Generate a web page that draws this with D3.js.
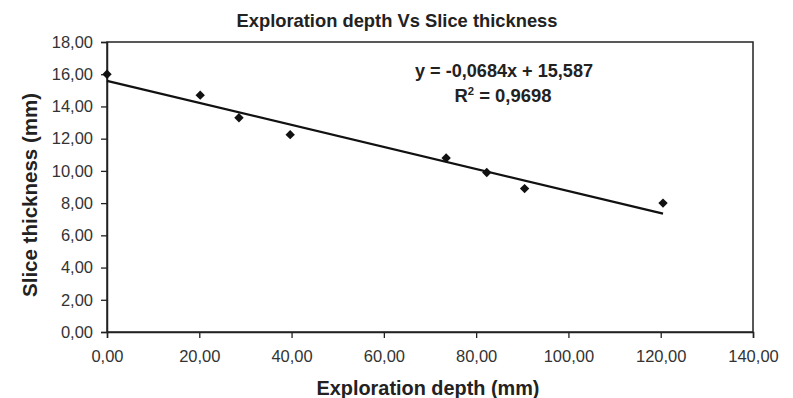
<!DOCTYPE html>
<html>
<head>
<meta charset="utf-8">
<script src="https://cdn.jsdelivr.net/npm/d3@7"></script>
<style>
  body { margin: 0; background: #fff; }
  text { font-family: Arial, "Liberation Sans", sans-serif; }
</style>
</head>
<body>
<div id="chart"></div>
<script>
// data
var depth = [0, 20.2, 28.6, 39.7, 73.5, 82.3, 90.5, 120.5];
var thickness = [16.0, 14.7, 13.3, 12.25, 10.8, 9.9, 8.9, 8.0];
var xTicks = [0, 20, 40, 60, 80, 100, 120, 140];
var yTicks = [0, 2, 4, 6, 8, 10, 12, 14, 16, 18];
var slope = -0.0684;
var intercept = 15.587;
var eqLabel = "y = -0,0684x + 15,587";
var r2Value = "0,9698";

var width = 793, height = 398;
var margin = {top: 42, right: 40, bottom: 66, left: 107};

var svg = d3.select("#chart").append("svg")
    .attr("width", width)
    .attr("height", height);

var x = d3.scaleLinear()
    .domain([0, 140])
    .range([margin.left, width - margin.right]);

var y = d3.scaleLinear()
    .domain([0, 18])
    .range([height - margin.bottom, margin.top]);

var fmt = function(d) { return d.toFixed(2).replace(".", ","); };

// frame round the plot area
svg.append("rect")
    .attr("x", x(0))
    .attr("y", y(18))
    .attr("width", x(140) - x(0))
    .attr("height", y(0) - y(18))
    .attr("fill", "none")
    .attr("stroke", "#222")
    .attr("stroke-width", 1.5);

var xAxis = svg.append("g")
    .attr("transform", "translate(0," + y(0) + ")")
    .call(d3.axisBottom(x).tickValues(xTicks).tickFormat(fmt).tickSize(6).tickPadding(12));

var yAxis = svg.append("g")
    .attr("transform", "translate(" + x(0) + ",0)")
    .call(d3.axisLeft(y).tickValues(yTicks).tickFormat(fmt).tickSize(6).tickPadding(8));

[xAxis, yAxis].forEach(function(g) {
    g.select(".domain").attr("stroke", "#222").attr("stroke-width", 1.5);
    g.selectAll(".tick line").attr("stroke", "#222").attr("stroke-width", 1.3);
    g.selectAll(".tick text")
        .attr("fill", "#333")
        .style("font-size", "16.5px")
        .style("font-family", "Arial, 'Liberation Sans', sans-serif");
});
xAxis.selectAll(".tick text").attr("dy", "0.75em");

// trend line from the fitted equation
var xExtent = d3.extent(depth);
svg.append("path")
    .datum(xExtent)
    .attr("fill", "none")
    .attr("stroke", "#111")
    .attr("stroke-width", 2.2)
    .attr("d", d3.line()
        .x(function(d) { return x(d); })
        .y(function(d) { return y(slope * d + intercept); }));

// diamond markers
svg.selectAll(".pt")
    .data(depth)
    .enter()
    .append("path")
    .attr("class", "pt")
    .attr("transform", function(d, i) { return "translate(" + x(d) + "," + y(thickness[i]) + ") rotate(45)"; })
    .attr("d", d3.symbol().type(d3.symbolSquare).size(44))
    .attr("fill", "#111");

// title
svg.append("text")
    .attr("x", 397)
    .attr("y", 27)
    .attr("text-anchor", "middle")
    .attr("font-weight", "bold")
    .attr("font-size", 18.5)
    .attr("fill", "#222")
    .attr("textLength", 321)
    .attr("lengthAdjust", "spacingAndGlyphs")
    .text("Exploration depth Vs Slice thickness");

// axis titles
svg.append("text")
    .attr("x", 428)
    .attr("y", 395)
    .attr("text-anchor", "middle")
    .attr("font-weight", "bold")
    .attr("font-size", 20)
    .attr("fill", "#222")
    .attr("textLength", 223)
    .attr("lengthAdjust", "spacingAndGlyphs")
    .text("Exploration depth (mm)");

svg.append("text")
    .attr("transform", "translate(37,195) rotate(-90)")
    .attr("text-anchor", "middle")
    .attr("font-weight", "bold")
    .attr("font-size", 19.5)
    .attr("fill", "#222")
    .attr("textLength", 204)
    .attr("lengthAdjust", "spacingAndGlyphs")
    .text("Slice thickness (mm)");

// equation
svg.append("text")
    .attr("x", 504)
    .attr("y", 77)
    .attr("text-anchor", "middle")
    .attr("font-weight", "bold")
    .attr("font-size", 18)
    .attr("fill", "#222")
    .attr("textLength", 178)
    .attr("lengthAdjust", "spacingAndGlyphs")
    .text(eqLabel);

var r2 = svg.append("text")
    .attr("x", 503)
    .attr("y", 102)
    .attr("text-anchor", "middle")
    .attr("font-weight", "bold")
    .attr("font-size", 18)
    .attr("fill", "#222")
    .attr("textLength", 97)
    .attr("lengthAdjust", "spacingAndGlyphs");
r2.append("tspan").text("R");
r2.append("tspan").attr("dy", -7).attr("font-size", 11).text("2");
r2.append("tspan").attr("dy", 7).text(" = " + r2Value);
</script>
</body>
</html>
